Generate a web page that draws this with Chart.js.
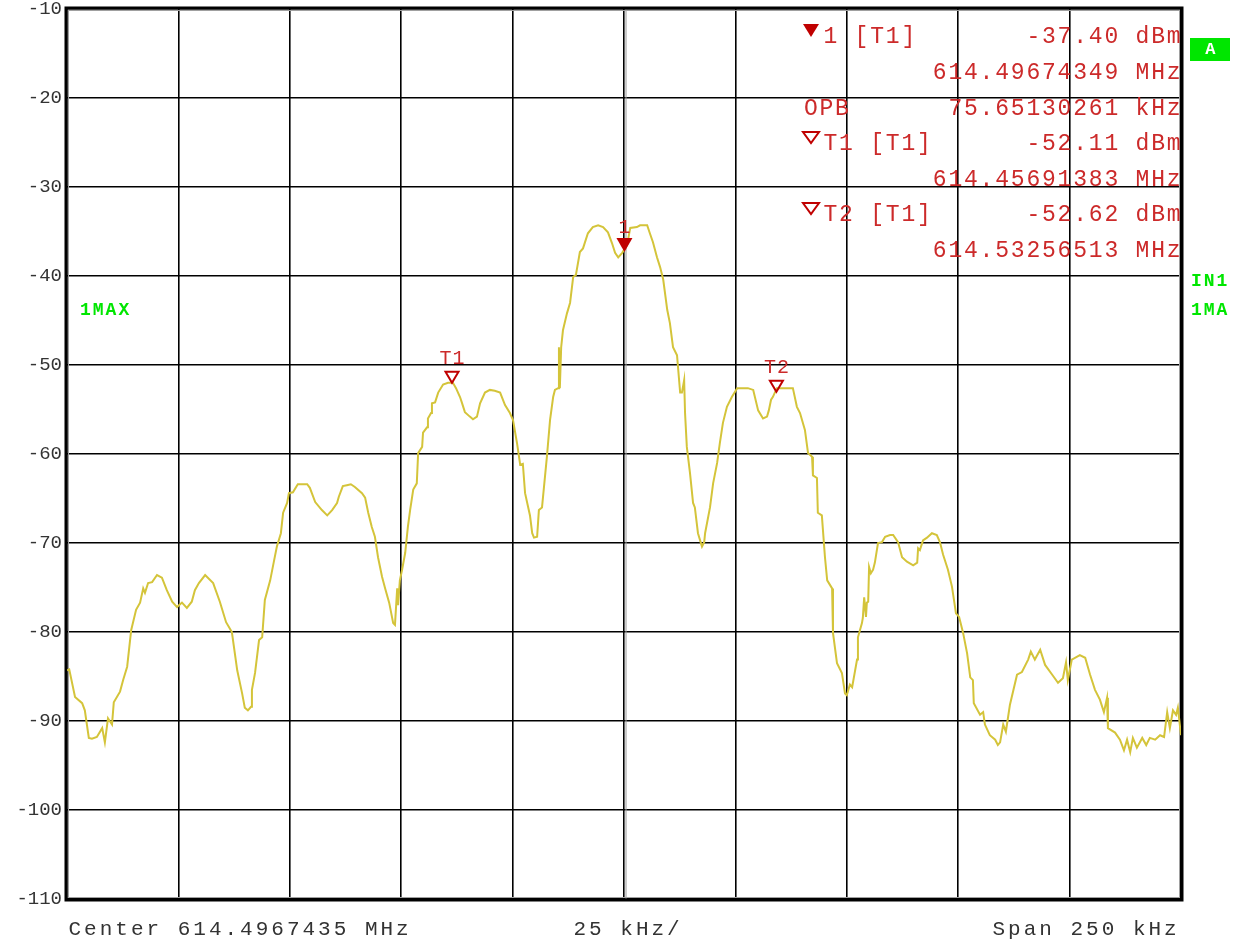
<!DOCTYPE html>
<html><head><meta charset="utf-8">
<script src="https://cdn.jsdelivr.net/npm/chart.js@4/dist/chart.umd.min.js"></script>
<style>html,body{margin:0;padding:0;background:#fff;}canvas{display:block;}</style>
</head><body>
<canvas id="c" width="1243" height="951"></canvas>
<script>
// ---- data (frequency offset from center in kHz, level in dBm) ----
const freqOffsetKHz = [
-125.0,-124.5,-123.2,-121.6,-121.0,-120.1,-119.4,-118.3,-117.1,-116.5,-115.8,-114.9,-114.5,-113.1,-112.4,-111.5,-110.6,-109.5,-108.6,-107.9,-107.5,-106.8,-105.9,-104.8,-103.7,-102.6,-101.4,-100.3,-99.2,-98.1,-97.0,-96.3,-95.4,-94.0,-92.2,-90.7,-89.3,-88.0,-86.8,-85.7,-85.1,-84.4,-83.7,-83.5,-82.8,-81.9,
-81.2,-80.6,-79.4,-78.5,-77.9,-77.0,-76.5,-75.6,-75.2,-74.3,-73.2,-71.1,-70.5,-69.3,-67.8,-66.6,-65.5,-64.4,-64.0,-63.1,-62.2,-61.3,-60.4,-58.8,-58.1,-57.4,-56.6,-55.9,-55.2,-54.3,-53.6,-52.7,-51.8,-51.4,-50.9,-50.7,-50.3,
-49.8,-49.1,-48.5,-48.0,-47.3,-46.5,-46.2,-45.3,-45.1,-44.2,-44.0,-43.3,-43.1,-42.4,-41.7,-40.6,-39.5,-38.4,-37.7,-36.8,-36.4,-35.7,-34.6,-33.9,-33.0,-32.3,-31.2,-30.1,-29.0,-27.8,-26.7,-25.6,-24.9,-24.0,-23.3,-22.7,-22.2,-21.1,-20.6,-20.2,-19.5,-19.1,-18.4,-17.3,-16.6,-15.9,-15.5,-14.8,-14.6,-14.4,-14.1,-13.7,-12.8,-12.1,-11.4,-10.8,
-9.9,-9.2,-8.1,-7.0,-5.8,-4.7,-3.6,-2.7,-2.0,-1.3,-0.4,0.7,1.4,2.9,3.6,5.2,5.8,6.5,7.4,8.1,8.8,9.7,10.3,11.0,11.9,12.6,13.0,13.5,13.7,14.1,14.8,15.5,15.9,16.6,17.5,18.0,18.2,19.3,20.0,20.9,21.5,22.2,23.1,24.2,25.4,27.8,29.0,30.1,31.2,32.1,32.5,33.0,33.4,34.3,37.9,38.8,39.5,40.6,41.3,42.2,42.4,43.3,43.5,44.4,45.1,45.6,46.7,46.9,47.8,48.9,49.6,
50.0,50.7,51.2,52.3,52.5,53.4,53.6,53.9,54.3,54.5,54.8,55.0,55.4,55.9,56.3,57.0,57.9,58.6,59.7,60.4,61.5,62.4,63.5,64.9,65.8,66.0,66.4,67.1,68.0,69.1,70.2,70.9,71.6,72.7,73.6,74.5,75.2,76.1,77.0,77.7,78.3,78.5,79.9,80.6,81.0,82.1,83.3,83.9,84.4,85.1,85.7,86.6,88.2,89.3,90.7,91.3,92.2,93.4,94.5,96.1,97.4,98.5,99.2,99.6,
100.5,102.3,103.5,104.6,105.7,106.8,107.7,108.4,108.6,110.2,111.3,112.2,112.9,113.6,114.2,115.1,116.3,117.2,118.0,119.2,120.3,121.2,121.9,122.5,123.2,123.9,124.3,125.0
];
const levelDBm = [
-84.3,-84.2,-87.3,-88.0,-88.8,-91.9,-92.0,-91.8,-90.8,-92.4,-89.7,-90.4,-87.9,-86.7,-85.4,-83.9,-79.8,-77.5,-76.7,-75.1,-75.6,-74.5,-74.4,-73.6,-73.9,-75.3,-76.6,-77.2,-76.7,-77.3,-76.6,-75.3,-74.5,-73.6,-74.5,-76.6,-78.9,-80.0,-84.3,-86.9,-88.5,-88.8,-88.4,-86.5,-84.6,-80.9,
-80.6,-76.4,-74.2,-71.9,-70.4,-68.9,-66.6,-65.5,-64.4,-64.3,-63.4,-63.4,-63.8,-65.4,-66.3,-66.9,-66.3,-65.5,-64.8,-63.6,-63.5,-63.4,-63.7,-64.4,-64.9,-66.6,-68.2,-69.3,-71.6,-73.8,-75.1,-76.7,-79.0,-79.2,-75.1,-77.0,-74.2,
-73.0,-71.1,-68.2,-66.3,-64.0,-63.3,-59.9,-59.2,-57.6,-57.0,-56.0,-55.4,-54.3,-54.2,-53.1,-52.2,-52.0,-52.0,-52.6,-53.6,-54.2,-55.3,-55.8,-56.1,-55.8,-54.3,-53.1,-52.8,-52.9,-53.1,-54.5,-55.4,-56.2,-58.8,-61.2,-61.1,-64.4,-66.9,-68.9,-69.4,-69.3,-66.3,-66.0,-60.3,-56.2,-53.6,-52.8,-52.6,-48.0,-52.6,-48.0,-46.1,-44.2,-43.0,-40.1,-39.9,
-37.3,-36.9,-35.2,-34.5,-34.3,-34.5,-35.1,-36.3,-37.4,-37.9,-37.4,-36.5,-34.6,-34.5,-34.3,-34.3,-35.2,-36.2,-37.9,-39.0,-40.4,-43.8,-45.3,-48.0,-48.9,-53.1,-53.1,-51.7,-55.4,-59.2,-62.1,-65.5,-66.0,-68.9,-70.4,-69.9,-68.9,-66.0,-63.3,-61.0,-58.8,-56.5,-54.7,-53.6,-52.6,-52.6,-52.8,-55.1,-56.0,-55.8,-55.1,-53.9,-53.6,-52.6,-52.6,-54.7,-55.4,-57.3,-59.9,-60.3,-62.4,-62.7,-66.6,-66.9,-71.6,-74.2,-75.1,-80.1,-83.5,-84.6,-86.9,
-87.1,-85.9,-86.2,-83.1,-80.6,-79.0,-78.4,-76.1,-78.3,-76.7,-76.6,-72.7,-73.4,-73.0,-72.2,-70.0,-69.9,-69.3,-69.1,-69.1,-69.9,-71.6,-72.1,-72.5,-72.2,-70.6,-70.8,-69.7,-69.4,-68.9,-69.1,-69.9,-71.3,-73.0,-74.9,-77.9,-78.3,-80.1,-82.4,-85.1,-85.4,-88.0,-89.3,-89.0,-90.4,-91.6,-92.1,-92.7,-92.4,-90.4,-91.2,-88.2,-84.8,-84.5,-83.1,-82.2,-83.1,-82.0,-83.7,-84.8,-85.7,-85.2,-83.4,-85.4,
-83.1,-82.6,-82.9,-84.8,-86.5,-87.6,-89.0,-87.4,-90.8,-91.3,-92.1,-93.3,-92.1,-93.5,-91.9,-93.0,-91.9,-92.7,-91.9,-92.1,-91.6,-91.8,-89.0,-90.8,-88.8,-89.3,-88.5,-91.6
];
const yTickValues = [-10,-20,-30,-40,-50,-60,-70,-80,-90,-100,-110];
const xGridValues = [-125,-100,-75,-50,-25,0,25,50,75,100,125];

// markers on trace
const markerNames = ['1','T1','T2'];
const markerFreq = [0.1,-38.6,34.2];
const markerLevel = [-37.3,-52.0,-53.0];
const markerFilled = [true,false,false];

// marker table text
const tableLabels = ['1 [T1]','T1 [T1]','T2 [T1]'];
const tableLevels = ['-37.40 dBm','-52.11 dBm','-52.62 dBm'];
const tableFreqs = ['614.49674349 MHz','614.45691383 MHz','614.53256513 MHz'];
const opbLabel = 'OPB';
const opbValue = '75.65130261 kHz';
const footerCenter = 'Center 614.4967435 MHz';
const footerDiv = '25 kHz/';
const footerSpan = 'Span 250 kHz';
const traceLabel = '1MAX';
const sideLabels = ['IN1','1MA'];
const boxLabel = 'A';

const TRACE = '#d4c43a', RED = '#cc2a2a', MRED = '#c00000', GREEN = '#00e600';
const MONO = '"Liberation Mono", "DejaVu Sans Mono", monospace';

function drawMono(ctx, str, x0, yc, adv, font, color) {
  ctx.save();
  ctx.font = font; ctx.fillStyle = color;
  ctx.textAlign = 'center'; ctx.textBaseline = 'middle';
  for (let i = 0; i < str.length; i++) ctx.fillText(str[i], x0 + adv * i + adv / 2, yc);
  ctx.restore();
}
function drawRight(ctx, str, xr, yc, adv, font, color) {
  drawMono(ctx, str, xr - adv * str.length, yc, adv, font, color);
}
function tri(ctx, cx, tipY, w, h, filled, color) {
  ctx.save();
  ctx.beginPath();
  ctx.moveTo(cx - w / 2, tipY - h); ctx.lineTo(cx + w / 2, tipY - h); ctx.lineTo(cx, tipY); ctx.closePath();
  if (filled) { ctx.fillStyle = color; ctx.fill(); }
  else { ctx.strokeStyle = color; ctx.lineWidth = 2; ctx.lineJoin = 'miter'; ctx.stroke(); }
  ctx.restore();
}

const decor = {
  id: 'decor',
  beforeDatasetsDraw(chart) {
    const ctx = chart.ctx, a = chart.chartArea, xs = chart.scales.x;
    ctx.save();
    const cx = xs.getPixelForValue(0);
    ctx.strokeStyle = '#9a9a9a'; ctx.lineWidth = 1;
    ctx.beginPath(); ctx.moveTo(cx + 2, a.top); ctx.lineTo(cx + 2, a.bottom); ctx.stroke();
    ctx.strokeStyle = '#a0a0a0'; ctx.lineWidth = 1;
    ctx.strokeRect(a.left + 1.5, a.top + 1.5, a.right - a.left - 3, a.bottom - a.top - 3);
    ctx.strokeStyle = '#000'; ctx.lineWidth = 3;
    ctx.strokeRect(a.left - 1, a.top - 1, a.right - a.left + 2, a.bottom - a.top + 2);
    ctx.restore();
  },
  afterDatasetsDraw(chart) {
    const ctx = chart.ctx, xs = chart.scales.x, ys = chart.scales.y;
    for (let i = 0; i < markerNames.length; i++) {
      const px = xs.getPixelForValue(markerFreq[i]);
      const py = ys.getPixelForValue(markerLevel[i]);
      tri(ctx, px, py, markerFilled[i] ? 16 : 13, markerFilled[i] ? 14 : 11, markerFilled[i], MRED);
      drawMono(ctx, markerNames[i], px - 6.5 * markerNames[i].length, py - 24, 13, '20px ' + MONO, RED);
    }
    const F = '23px ' + MONO, ADV = 15.6, XR = 1181.5;
    const rowY = [37, 144, 215], freqY = [73, 180, 251];
    for (let i = 0; i < 3; i++) {
      tri(ctx, 811, rowY[i] - (i === 0 ? 0 : 1), 16, i === 0 ? 13 : 11, i === 0, MRED);
      drawMono(ctx, tableLabels[i], 822.5, rowY[i], ADV, F, RED);
      drawRight(ctx, tableLevels[i], XR, rowY[i], ADV, F, RED);
      drawRight(ctx, tableFreqs[i], XR, freqY[i], ADV, F, RED);
    }
    drawMono(ctx, opbLabel, 803, 109, ADV, F, RED);
    drawRight(ctx, opbValue, XR, 109, ADV, F, RED);
    const FF = '21px ' + MONO;
    drawMono(ctx, footerCenter, 67, 929, ADV, FF, '#333');
    drawMono(ctx, footerDiv, 572, 929, ADV, FF, '#333');
    drawMono(ctx, footerSpan, 991, 929, ADV, FF, '#333');
    const GF = 'bold 18px ' + MONO;
    drawMono(ctx, traceLabel, 79, 310, 12.8, GF, GREEN);
    drawMono(ctx, sideLabels[0], 1190, 281, 12.8, GF, GREEN);
    drawMono(ctx, sideLabels[1], 1190, 310, 12.8, GF, GREEN);
    ctx.save();
    ctx.fillStyle = GREEN; ctx.fillRect(1190, 38, 40, 23);
    ctx.restore();
    drawMono(ctx, boxLabel, 1204, 50, 12.8, 'bold 17px ' + MONO, '#ffffff');
  }
};

new Chart(document.getElementById('c'), {
  type: 'line',
  data: {
    datasets: [{
      data: freqOffsetKHz.map((f, i) => ({ x: f, y: levelDBm[i] })),
      borderColor: TRACE, borderWidth: 2, pointRadius: 0, tension: 0, fill: false
    }]
  },
  options: {
    responsive: false, animation: false, devicePixelRatio: 1,
    layout: { padding: { top: 9, right: 62, left: 0, bottom: 0 } },
    plugins: { legend: { display: false }, tooltip: { enabled: false } },
    scales: {
      x: {
        type: 'linear', min: -125, max: 125,
        afterBuildTicks: s => { s.ticks = xGridValues.map(v => ({ value: v })); },
        afterFit: s => { s.height = 52; },
        ticks: { display: false },
        grid: { color: '#000', lineWidth: 1.6, drawTicks: false },
        border: { display: false }
      },
      y: {
        min: -110, max: -10,
        afterBuildTicks: s => { s.ticks = yTickValues.map(v => ({ value: v })); },
        afterFit: s => { s.width = 67; },
        ticks: { color: '#333', padding: 5, font: { family: MONO, size: 19, lineHeight: 0.2 } },
        grid: { color: '#000', lineWidth: 1.6, drawTicks: false },
        border: { display: false }
      }
    }
  },
  plugins: [decor]
});
</script>
</body></html>
